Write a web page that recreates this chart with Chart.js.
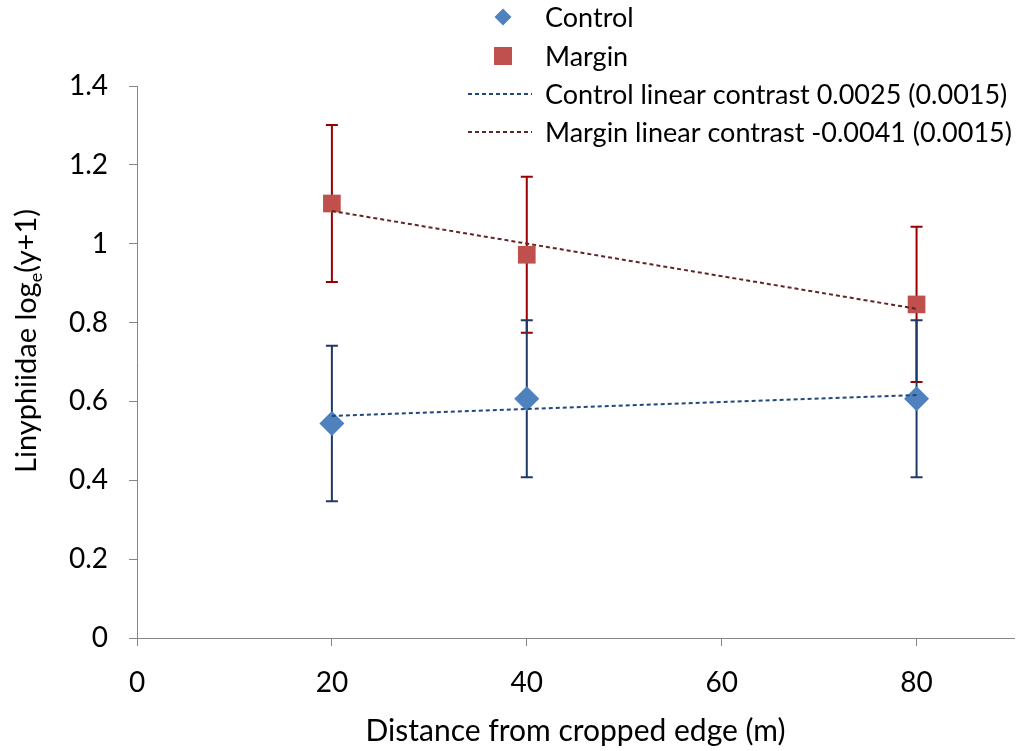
<!DOCTYPE html>
<html>
<head>
<meta charset="utf-8">
<script src="https://cdn.jsdelivr.net/npm/chart.js@4.4.1/dist/chart.umd.min.js"></script>
<style>
  html, body { margin: 0; padding: 0; background: #fff; overflow: hidden; }
  #wrap { width: 1017px; height: 751px; position: relative; }
  #wrap canvas { display: block; }
</style>
</head>
<body>
<div id="wrap"><canvas id="chart"></canvas></div>
<script>
// distance from the cropped edge (m)
const distances = [20, 40, 80];

// treatment means and standard errors, log_e(y+1)
const controlMean = [0.544, 0.607, 0.607];
const controlSE = [0.197, 0.199, 0.199];
const marginMean = [1.102, 0.972, 0.846];
const marginSE = [0.199, 0.198, 0.197];

// fitted linear contrasts, end points
const trendX = [20, 80];
const controlTrend = [0.563, 0.616];
const marginTrend = [1.083, 0.835];

const xTicks = [0, 20, 40, 60, 80];
const yTicks = [0, 0.2, 0.4, 0.6, 0.8, 1, 1.2, 1.4];

const FONT = "Lato";
const TICK_SIZE = 28;
const TITLE_SIZE = 30;
const LEGEND_SIZE = 27;

Chart.defaults.font.family = FONT;
Chart.defaults.font.size = TICK_SIZE;
Chart.defaults.color = "#000";

const toPoints = (xs, ys) => xs.map((x, i) => ({ x: x, y: ys[i] }));

/* ---------- error bars drawn under each marker set ---------- */
const errorBars = {
  id: "errorBars",
  beforeDatasetDraw(chart, args) {
    const ds = chart.data.datasets[args.index];
    if (!ds.errors) return;
    const { ctx, scales: { x, y } } = chart;
    ctx.save();
    ctx.strokeStyle = ds.errorColor;
    ctx.lineWidth = 2;
    ds.data.forEach((p, i) => {
      const px = x.getPixelForValue(p.x);
      const top = y.getPixelForValue(p.y + ds.errors[i]);
      const bot = y.getPixelForValue(p.y - ds.errors[i]);
      ctx.beginPath();
      ctx.moveTo(px, top);
      ctx.lineTo(px, bot);
      ctx.moveTo(px - 6, top);
      ctx.lineTo(px + 6, top);
      ctx.moveTo(px - 6, bot);
      ctx.lineTo(px + 6, bot);
      ctx.stroke();
    });
    ctx.restore();
  }
};

/* ---------- y title with subscript e ---------- */
const yTitle = {
  id: "yTitle",
  afterDraw(chart) {
    const ctx = chart.ctx;
    const parts = [
      { t: "Linyphiidae log", size: 29, dy: 0 },
      { t: "e", size: 18, dy: 6 },
      { t: "(y+1)", size: 29, dy: 0 }
    ];
    ctx.save();
    let total = 0;
    parts.forEach(p => {
      ctx.font = `${p.size}px ${FONT}`;
      p.w = ctx.measureText(p.t).width;
      total += p.w;
    });
    ctx.translate(36, 341);
    ctx.rotate(-Math.PI / 2);
    ctx.fillStyle = "#000";
    ctx.textBaseline = "alphabetic";
    let cx = -total / 2;
    parts.forEach(p => {
      ctx.font = `${p.size}px ${FONT}`;
      ctx.fillText(p.t, cx, p.dy);
      cx += p.w;
    });
    ctx.restore();
  }
};

/* ---------- legend inside the top right ---------- */
const cornerLegend = {
  id: "cornerLegend",
  afterDraw(chart) {
    const ctx = chart.ctx;
    const rows = [17, 56, 94, 132];
    ctx.save();
    ctx.font = `${LEGEND_SIZE}px ${FONT}`;
    ctx.textBaseline = "middle";
    ctx.fillStyle = "#000";
    chart.data.datasets.forEach((ds, i) => {
      const rowY = rows[i];
      if (ds.type === "line") {
        ctx.save();
        ctx.strokeStyle = ds.borderColor;
        ctx.lineWidth = ds.borderWidth;
        ctx.setLineDash(ds.borderDash);
        ctx.beginPath();
        ctx.moveTo(468, rowY);
        ctx.lineTo(532, rowY);
        ctx.stroke();
        ctx.restore();
      } else {
        ctx.save();
        ctx.fillStyle = ds.backgroundColor;
        ctx.strokeStyle = ds.backgroundColor;
        Chart.helpers.drawPoint(ctx, {
          pointStyle: ds.pointStyle,
          radius: ds.legendRadius,
          borderWidth: 0,
          rotation: 0
        }, 503, rowY);
        ctx.restore();
      }
      ctx.fillText(ds.label, 545, rowY + 1);
    });
    ctx.restore();
  }
};

const ctx = document.getElementById("chart").getContext("2d");

new Chart(ctx, {
  type: "scatter",
  data: {
    datasets: [
      {
        label: "Control",
        data: toPoints(distances, controlMean),
        errors: controlSE,
        errorColor: "#1F3864",
        pointStyle: "rectRot",
        pointRadius: 12.5,
        pointHoverRadius: 12.5,
        legendRadius: 8.5,
        backgroundColor: "#4F81BD",
        borderColor: "#4F81BD",
        borderWidth: 0,
        order: 1
      },
      {
        label: "Margin",
        data: toPoints(distances, marginMean),
        errors: marginSE,
        errorColor: "#990000",
        pointStyle: "rect",
        pointRadius: 12.5,
        pointHoverRadius: 12.5,
        legendRadius: 12.7,
        backgroundColor: "#C0504D",
        borderColor: "#C0504D",
        borderWidth: 0,
        order: 1
      },
      {
        type: "line",
        label: "Control linear contrast 0.0025 (0.0015)",
        data: toPoints(trendX, controlTrend),
        borderColor: "#1F497D",
        borderWidth: 2,
        borderDash: [4, 3],
        pointRadius: 0,
        fill: false,
        order: 0
      },
      {
        type: "line",
        label: "Margin linear contrast -0.0041 (0.0015)",
        data: toPoints(trendX, marginTrend),
        borderColor: "#632523",
        borderWidth: 2,
        borderDash: [4, 3],
        pointRadius: 0,
        fill: false,
        order: 0
      }
    ]
  },
  options: {
    responsive: true,
    maintainAspectRatio: false,
    animation: false,
    layout: {
      autoPadding: false,
      padding: { top: 86, right: 3, left: 0, bottom: 0 }
    },
    plugins: {
      legend: { display: false },
      tooltip: { enabled: false }
    },
    scales: {
      x: {
        type: "linear",
        min: 0,
        max: 90,
        afterBuildTicks: s => { s.ticks = xTicks.map(v => ({ value: v })); },
        afterFit: s => { s.height = 113; },
        border: { color: "#868686", width: 1 },
        grid: { display: true, drawOnChartArea: false, tickLength: 8, color: "#868686" },
        ticks: { color: "#000", padding: 20, maxRotation: 0 },
        title: {
          display: true,
          text: "Distance from cropped edge (m)",
          color: "#000",
          font: { size: TITLE_SIZE },
          padding: { top: 0, bottom: 2 }
        }
      },
      y: {
        type: "linear",
        min: 0,
        max: 1.4,
        afterBuildTicks: s => { s.ticks = yTicks.map(v => ({ value: v })); },
        afterFit: s => { s.width = 137; },
        border: { color: "#868686", width: 1 },
        grid: { display: true, drawOnChartArea: false, tickLength: 8, color: "#868686" },
        ticks: { color: "#000", padding: 21, callback: v => String(v) }
      }
    }
  },
  plugins: [errorBars, yTitle, cornerLegend]
});
</script>
</body>
</html>
